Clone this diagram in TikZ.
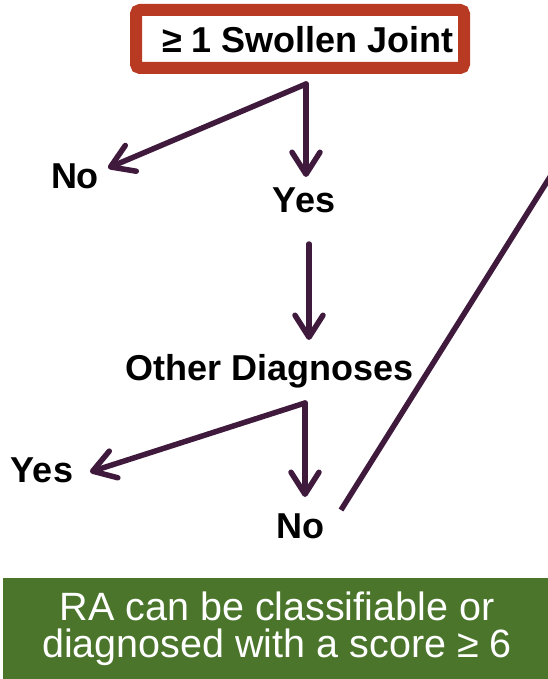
\documentclass[tikz,border=0pt]{standalone}
\usepackage{fontspec}
\setmainfont{Liberation Sans}
\usetikzlibrary{arrows.meta}
\definecolor{arrowpurple}{HTML}{3F1A3D}
\definecolor{boxred}{HTML}{B93A23}
\definecolor{boxgreen}{HTML}{4A752B}
\tikzset{
  lbl/.style={font=\fontsize{36}{40}\selectfont\bfseries, text=black, inner sep=0pt, anchor=base},
  flow/.style={draw=arrowpurple, line width=5.5pt, line cap=round, line join=round,
    -{Straight Barb[length=22pt,width=28pt,round]}},
  plain/.style={draw=arrowpurple, line width=5.5pt},
  greentxt/.style={inner sep=0pt, text=white, anchor=base, font=\fontsize{39.5}{37}\selectfont}
}
\begin{document}
\begin{tikzpicture}[x=1pt,y=-1pt]
\useasboundingbox (0,0) rectangle (548,679);
% title box
\draw[boxred, line width=12pt, fill=white, rounded corners=4pt] (136,10) rectangle (464,68);
\node[lbl] (title) at (308,53) {≥ 1 Swollen Joint};
% labels
\node[lbl] (noA) at (75,188) {No};
\node[lbl] (yesA) at (304,212) {Yes};
\node[lbl] (other) at (270,380) {Other Diagnoses};
\node[lbl] (yesB) at (42,482) {Yes};
\node[lbl] (noB) at (300,538) {No};
% connector points
\coordinate (c1) at (306,84);
\coordinate (t1) at (306,177);
\coordinate (t2) at (108,168);
\coordinate (s2) at (309,244);
\coordinate (t3) at (309,340);
\coordinate (c3) at (305,403);
\coordinate (t4) at (305,497);
\coordinate (t5) at (90,472);
\coordinate (d1) at (341,510);
\coordinate (d2) at (560,161);
% arrows
\draw[flow] (c1) -- (t1);
\draw[flow] (c1) -- (t2);
\draw[flow] (s2) -- (t3);
\draw[flow] (c3) -- (t4);
\draw[flow] (c3) -- (t5);
\begin{scope}
\clip (0,0) rectangle (548,679);
\draw[plain] (d1) -- (d2);
\end{scope}
% green box
\fill[boxgreen] (3,578) rectangle (548,679);
\node[greentxt] (ra1) at (277,620) {RA can be classifiable or};
\node[greentxt] (ra2) at (277,657) {diagnosed with a score ≥ 6};
\end{tikzpicture}
\end{document}
